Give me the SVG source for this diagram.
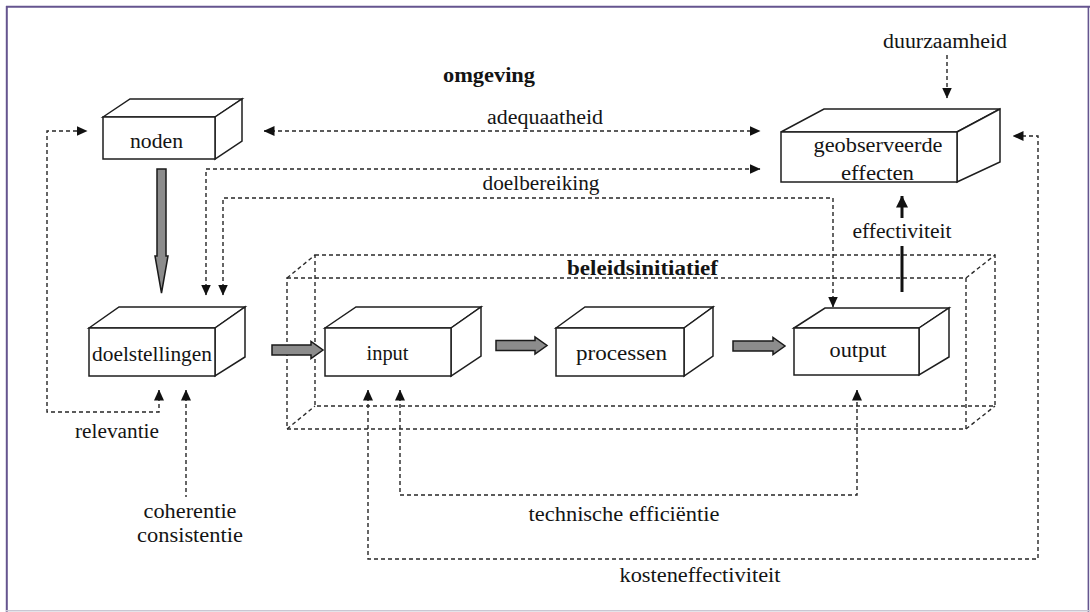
<svg xmlns="http://www.w3.org/2000/svg" width="1090" height="612" viewBox="0 0 1090 612" font-family="'Liberation Serif', 'DejaVu Serif', serif">
  <style>
    .box path, .box rect { fill: #ffffff; stroke: #1e1e1e; stroke-width: 1.5; stroke-linejoin: miter; }
    text { font-family: 'Liberation Serif', 'DejaVu Serif', serif; font-size: 20px; fill: #141414; }
    .b { font-weight: bold; }
    .dash { fill: none; stroke: #262626; stroke-width: 1.4; stroke-dasharray: 4 3; }
    .frame { fill: none; stroke: #2a2a2a; stroke-width: 1.4; stroke-dasharray: 4 3; }
    .solid { fill: none; stroke: #111111; stroke-width: 3; }
    .block { fill: #8c8c8c; stroke: #1a1a1a; stroke-width: 1.5; stroke-linejoin: miter; }
  </style>
  <defs>
    <marker id="ah" viewBox="0 0 11 10" refX="10.5" refY="5" markerWidth="11" markerHeight="10" markerUnits="userSpaceOnUse" orient="auto-start-reverse">
      <path d="M0,0 L11,5 L0,10 z" fill="#111111"/>
    </marker>
    <marker id="ahs" viewBox="0 0 12 12" refX="11.5" refY="6" markerWidth="12" markerHeight="12" markerUnits="userSpaceOnUse" orient="auto">
      <path d="M0,0 L12,6 L0,12 z" fill="#111111"/>
    </marker>
  </defs>

  <rect x="0" y="0" width="1090" height="612" fill="#ffffff"/>

  <!-- page frame -->
  <g id="frame">
    <line x1="6" y1="6.8" x2="1090" y2="6.8" stroke="#65558f" stroke-width="2"/>
    <line x1="6.8" y1="6" x2="6.8" y2="612" stroke="#65558f" stroke-width="2"/>
    <line x1="1088.4" y1="6" x2="1088.4" y2="612" stroke="#65558f" stroke-width="1.6"/>
    <line x1="6" y1="610.8" x2="1090" y2="610.8" stroke="#c9c7d3" stroke-width="1.6"/>
  </g>

  <!-- policy initiative: dashed wireframe block -->
  <g id="beleidsinitiatief">
    <rect class="frame" x="315" y="255" width="680" height="151"/>
    <rect class="frame" x="287" y="278" width="679" height="151"/>
    <path class="frame" d="M287,278 L315,255 M966,278 L995,255 M287,429 L315,406 M966,429 L995,406"/>
    <text class="b" x="642.5" y="275" text-anchor="middle" textLength="151" lengthAdjust="spacingAndGlyphs">beleidsinitiatief</text>
  </g>

  <g id="omgeving">
    <text class="b" x="489" y="82" text-anchor="middle" textLength="92" lengthAdjust="spacingAndGlyphs">omgeving</text>
  </g>

  <!-- connectors -->
  <g id="connectors">
    <!-- adequaatheid -->
    <path class="dash" d="M264,131 H760" marker-start="url(#ah)" marker-end="url(#ah)"/>
    <!-- doelbereiking (two loops) -->
    <path class="dash" d="M206,295 V169 H760" marker-start="url(#ah)" marker-end="url(#ah)"/>
    <path class="dash" d="M223,295 V198 H833 V307" marker-start="url(#ah)" marker-end="url(#ah)"/>
    <!-- duurzaamheid -->
    <path class="dash" d="M947,55 V98" marker-end="url(#ah)"/>
    <!-- relevantie -->
    <path class="dash" d="M159,390 V412 H47 V131 H87" marker-start="url(#ah)" marker-end="url(#ah)"/>
    <!-- coherentie / consistentie -->
    <path class="dash" d="M186,390 V497" marker-start="url(#ah)"/>
    <!-- technische efficientie -->
    <path class="dash" d="M400,390 V495 H857 V390" marker-start="url(#ah)" marker-end="url(#ah)"/>
    <!-- kosteneffectiviteit -->
    <path class="dash" d="M368,390 V559 H1038 V136 H1013" marker-start="url(#ah)" marker-end="url(#ah)"/>
    <!-- effectiviteit -->
    <path class="solid" d="M902,218 V196" marker-end="url(#ahs)"/>
    <path class="solid" d="M902,246 V292"/>
    <!-- block arrows -->
    <polygon class="block" points="157,169 166,169 166,256 168,256 161.5,293 155,256 157,256"/>
    <polygon class="block" points="272,345 311,345 311,341.5 323,350 311,358.5 311,355 272,355"/>
    <polygon class="block" points="496,340.5 535,340.5 535,337 547,345.5 535,354 535,350.5 496,350.5"/>
    <polygon class="block" points="733,341 773,341 773,337.5 785,346 773,354.5 773,351 733,351"/>
  </g>

  <!-- connector labels -->
  <g id="labels">
    <text x="945" y="48" text-anchor="middle" textLength="124" lengthAdjust="spacingAndGlyphs">duurzaamheid</text>
    <text x="545" y="124" text-anchor="middle" textLength="116" lengthAdjust="spacingAndGlyphs">adequaatheid</text>
    <text x="541" y="190" text-anchor="middle" textLength="117" lengthAdjust="spacingAndGlyphs">doelbereiking</text>
    <text x="902" y="238" text-anchor="middle" textLength="99" lengthAdjust="spacingAndGlyphs">effectiviteit</text>
    <text x="117" y="438" text-anchor="middle" textLength="84" lengthAdjust="spacingAndGlyphs">relevantie</text>
    <text x="190" y="518" text-anchor="middle" textLength="93" lengthAdjust="spacingAndGlyphs">coherentie</text>
    <text x="190" y="542" text-anchor="middle" textLength="106" lengthAdjust="spacingAndGlyphs">consistentie</text>
    <text x="624" y="521" text-anchor="middle" textLength="191" lengthAdjust="spacingAndGlyphs">technische efficiëntie</text>
    <text x="700" y="582" text-anchor="middle" textLength="161" lengthAdjust="spacingAndGlyphs">kosteneffectiviteit</text>
  </g>

  <!-- 3D blocks -->
  <g id="noden" class="box">
    <path d="M103,117 L130,99 L242,99 L215,117 Z"/>
    <path d="M215,117 L242,99 L242,141 L215,159 Z"/>
    <rect x="103" y="117" width="112" height="42"/>
    <text x="156.5" y="148" text-anchor="middle" textLength="53" lengthAdjust="spacingAndGlyphs">noden</text>
  </g>

  <g id="geobserveerde-effecten" class="box">
    <path d="M781,132 L824,109 L1000,109 L957,132 Z"/>
    <path d="M957,132 L1000,109 L1000,162 L957,182 Z"/>
    <rect x="781" y="132" width="176" height="50"/>
    <text x="878" y="152" text-anchor="middle" textLength="129" lengthAdjust="spacingAndGlyphs">geobserveerde</text>
    <text x="877.5" y="180" text-anchor="middle" textLength="73" lengthAdjust="spacingAndGlyphs">effecten</text>
  </g>

  <g id="doelstellingen" class="box">
    <path d="M89,328 L119,307 L245,307 L215,328 Z"/>
    <path d="M215,328 L245,307 L245,357 L215,376 Z"/>
    <rect x="89" y="328" width="126" height="48"/>
    <text x="152" y="361" text-anchor="middle" textLength="120" lengthAdjust="spacingAndGlyphs">doelstellingen</text>
  </g>

  <g id="input" class="box">
    <path d="M325,328 L356,307 L481,307 L451,328 Z"/>
    <path d="M451,328 L481,307 L481,356 L451,376 Z"/>
    <rect x="325" y="328" width="126" height="48"/>
    <text x="387.5" y="360" text-anchor="middle" textLength="42" lengthAdjust="spacingAndGlyphs">input</text>
  </g>

  <g id="processen" class="box">
    <path d="M556,328 L585,307 L713,307 L684,328 Z"/>
    <path d="M684,328 L713,307 L713,356 L684,376 Z"/>
    <rect x="556" y="328" width="128" height="48"/>
    <text x="621.5" y="360" text-anchor="middle" textLength="91" lengthAdjust="spacingAndGlyphs">processen</text>
  </g>

  <g id="output" class="box">
    <path d="M794,328 L825,308 L949,308 L919,328 Z"/>
    <path d="M919,328 L949,308 L949,357 L919,375 Z"/>
    <rect x="794" y="328" width="125" height="47"/>
    <text x="858" y="357" text-anchor="middle" textLength="57" lengthAdjust="spacingAndGlyphs">output</text>
  </g>
</svg>
